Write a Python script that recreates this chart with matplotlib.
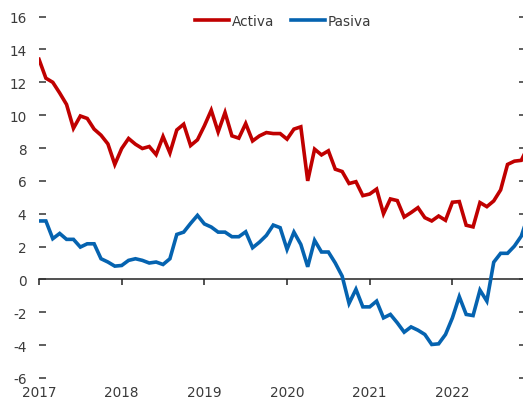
import matplotlib
matplotlib.use("Agg")
import matplotlib.pyplot as plt
import numpy as np

years = ["2017", "2018", "2019", "2020", "2021", "2022"]

activa = [13.4, 12.25, 12.0, 11.35, 10.65, 9.2, 9.95, 9.8, 9.15, 8.78, 8.25, 7.0,
          7.97, 8.58, 8.23, 7.97, 8.09, 7.6, 8.7, 7.7, 9.1, 9.45, 8.15, 8.5,
          9.35, 10.3, 8.98, 10.16, 8.74, 8.6, 9.49, 8.43, 8.74, 8.94, 8.88, 8.88,
          8.54, 9.15, 9.29, 6.0, 7.93, 7.58, 7.83, 6.71, 6.57, 5.84, 5.95, 5.1,
          5.2, 5.5, 4.0, 4.9, 4.8, 3.8, 4.07, 4.37, 3.76, 3.56, 3.86, 3.6,
          4.7, 4.74, 3.3, 3.2, 4.68, 4.43, 4.78, 5.45, 7.0, 7.2, 7.25, 8.1]

pasiva = [3.56, 3.56, 2.48, 2.8, 2.44, 2.44, 1.97, 2.17, 2.17, 1.26, 1.06, 0.81,
          0.85, 1.16, 1.26, 1.16, 1.0, 1.06, 0.91, 1.26, 2.74, 2.88, 3.41, 3.9,
          3.38, 3.19, 2.88, 2.88, 2.6, 2.6, 2.9, 1.93, 2.27, 2.68, 3.31, 3.15,
          1.83, 2.88, 2.13, 0.77, 2.38, 1.67, 1.67, 1.0, 0.2, -1.46, -0.6, -1.67,
          -1.67, -1.32, -2.34, -2.13, -2.64, -3.21, -2.89, -3.09, -3.35, -3.96, -3.92, -3.35,
          -2.34, -1.05, -2.13, -2.2, -0.65, -1.32, 1.05, 1.59, 1.59, 2.03, 2.64, 3.9]

yticks = list(range(-6, 17, 2))

plt.rcParams['font.family'] = ['DejaVu Sans']

W, H = 523, 402
fig = plt.figure(figsize=(W / 100, H / 100), dpi=100)
x0, x1 = 39, 526
y0, y1 = 379, 17.6
ax = fig.add_axes([x0 / W, (H - y0) / H, (x1 - x0) / W, (y0 - y1) / H])

months = np.arange(len(activa))
red = '#C00000'
blue = '#0563B0'
ax.plot(months, activa, color=red, lw=2.6, label='Activa', solid_joinstyle='miter')
ax.plot(months, pasiva, color=blue, lw=2.6, label='Pasiva', solid_joinstyle='miter')

ax.set_xlim(0, (x1 - x0) / 6.89)
ax.set_ylim(-6, 16)

for s in ax.spines.values():
    s.set_visible(False)

txtc = '#3a3a3a'
ax.set_yticks(yticks)
ax.set_yticklabels([str(v) for v in yticks])
ax.tick_params(axis='y', direction='in', length=5, width=1.1, color='#333333',
               labelsize=9.8, labelcolor=txtc, pad=9, right=True, left=True)

ax.set_xticks([12 * i for i in range(len(years))])
ax.set_xticklabels(years)
ax.tick_params(axis='x', length=0, labelsize=9.8, labelcolor=txtc, pad=5)

sec = ax.secondary_xaxis(6 / 22)
sec.set_xticks([12 * i for i in range(len(years))])
sec.tick_params(axis='x', direction='out', length=4, width=1.1, color='#222222',
                labelbottom=False)
sec.set_xticklabels([])
sec.spines['bottom'].set_color('#222222')
sec.spines['bottom'].set_linewidth(1.1)

fig.legend(loc='center', bbox_to_anchor=(283 / W, 1 - 22 / H), ncol=2, frameon=False,
           fontsize=9.8, handlelength=2.5, handletextpad=0.2, columnspacing=1.2,
           labelcolor=txtc)

fig.savefig('out.png', dpi=100)
